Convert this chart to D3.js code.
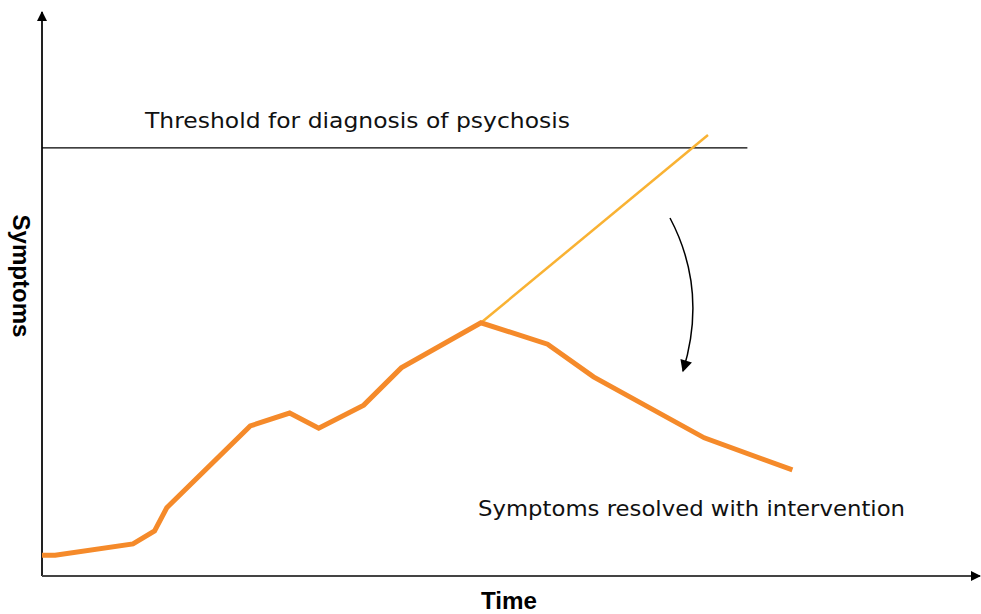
<!DOCTYPE html>
<html><head><meta charset="utf-8">
<script src="https://cdn.jsdelivr.net/npm/d3@7"></script>
<style>body{margin:0;background:#fff}svg{display:block}</style>
</head><body><svg id="c" width="981" height="614"></svg>
<script>
const time = [0, 1.4, 9.7, 12.0, 13.3, 22.2, 26.4, 29.5, 34.3, 38.3, 46.8, 53.9, 58.8, 70.6, 80.0];
const symptoms = [3.7, 3.7, 5.7, 8.0, 12.1, 26.6, 28.9, 26.2, 30.3, 36.9, 44.9, 41.1, 35.3, 24.5, 18.8];
const untreatedTime = [46.8, 71.0];
const untreatedSymptoms = [44.9, 78.2];
const threshold = 75.9;
const thresholdEnd = 75.2;
const labels = ["Threshold for diagnosis of psychosis", "Symptoms resolved with intervention"];
const axisTitles = ["Time", "Symptoms"];

const svg = d3.select("#c");
const x = d3.scaleLinear().domain([0,100]).range([42,980]);
const y = d3.scaleLinear().domain([0,100]).range([576,12]);
const font = "'DejaVu Sans', 'Liberation Sans', Arial, sans-serif";
const bold = "'Liberation Sans', Arial, sans-serif";

const defs = svg.append("defs");
defs.append("marker").attr("id","ah").attr("viewBox","0 0 10 10").attr("refX",9).attr("refY",5)
  .attr("markerWidth",10).attr("markerHeight",10).attr("markerUnits","userSpaceOnUse").attr("orient","auto")
  .append("path").attr("d","M0,0 L10,5 L0,10 Z").attr("fill","#000");
defs.append("marker").attr("id","ah2").attr("viewBox","0 0 10 10").attr("refX",9).attr("refY",5)
  .attr("markerWidth",14).attr("markerHeight",12).attr("markerUnits","userSpaceOnUse").attr("orient","auto")
  .append("path").attr("d","M0,0 L10,5 L0,10 Z").attr("fill","#000");

// axes
svg.append("line").attr("x1",x(0)).attr("y1",y(0)).attr("x2",x(0)).attr("y2",y(100))
  .attr("stroke","#222").attr("stroke-width",2).attr("marker-end","url(#ah)");
svg.append("line").attr("x1",x(0)).attr("y1",y(0)).attr("x2",x(100)).attr("y2",y(0))
  .attr("stroke","#444").attr("stroke-width",2).attr("marker-end","url(#ah)");

// threshold
svg.append("line").attr("x1",x(0)).attr("x2",x(thresholdEnd)).attr("y1",y(threshold)).attr("y2",y(threshold))
  .attr("stroke","#000").attr("stroke-width",1.3);
svg.append("text").attr("x",145).attr("y",y(threshold)-20).text(labels[0])
  .attr("font-family",font).attr("font-size",21).attr("fill","#111")
  .attr("textLength",425).attr("lengthAdjust","spacingAndGlyphs");

const line = d3.line().x(d=>x(d[0])).y(d=>y(d[1]));
// untreated trajectory
svg.append("path").attr("d", line(untreatedTime.map((t,i)=>[t,untreatedSymptoms[i]])))
  .attr("fill","none").attr("stroke","#F9B233").attr("stroke-width",2.5);
// symptoms
svg.append("path").attr("d", line(time.map((t,i)=>[t,symptoms[i]])))
  .attr("fill","none").attr("stroke","#F58A2A").attr("stroke-width",5).attr("stroke-linejoin","miter");

// curved arrow
svg.append("path").attr("d","M670,218 Q708,290 683,371")
  .attr("fill","none").attr("stroke","#000").attr("stroke-width",1.5).attr("marker-end","url(#ah2)");

svg.append("text").attr("x",478).attr("y",516).text(labels[1])
  .attr("font-family",font).attr("font-size",21).attr("fill","#111")
  .attr("textLength",427).attr("lengthAdjust","spacingAndGlyphs");

svg.append("text").attr("x",509).attr("y",609).attr("text-anchor","middle").text(axisTitles[0])
  .attr("font-family",bold).attr("font-size",23).attr("font-weight","bold")
  .attr("textLength",56).attr("lengthAdjust","spacingAndGlyphs");
svg.append("text").attr("transform","translate(13,276) rotate(90)").attr("text-anchor","middle").text(axisTitles[1])
  .attr("font-family",bold).attr("font-size",23).attr("font-weight","bold")
  .attr("textLength",123).attr("lengthAdjust","spacingAndGlyphs");
</script></body></html>
